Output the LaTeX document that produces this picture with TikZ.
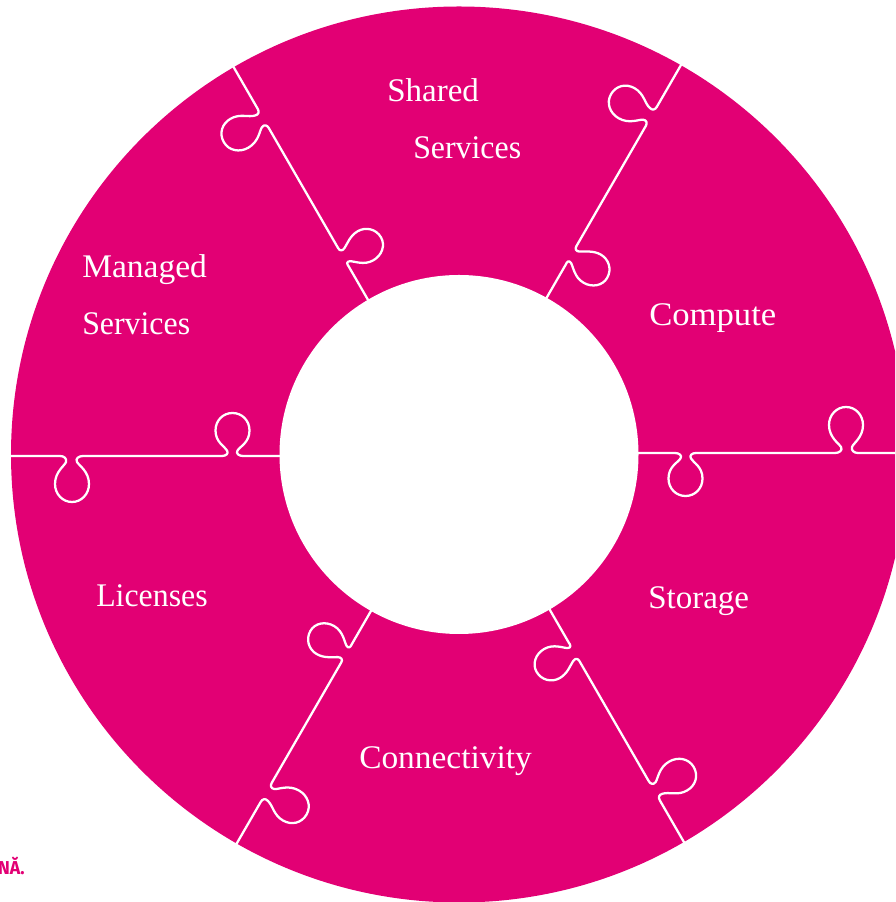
\documentclass[tikz,border=0pt]{standalone}
\usepackage{fontspec}
\setmainfont{Liberation Serif}
\newfontfamily\boldsans{Fira Sans}
\definecolor{tmag}{HTML}{E20074}
\tikzset{
  seamline/.style={draw=white,line width=1.7pt,line join=round,fill=none},
  piecelabel/.style={text=white,font=\fontsize{24.75pt}{30pt}\selectfont,anchor=base west,inner sep=0pt},
  cutlabel/.style={text=tmag,font=\boldsans\bfseries\fontsize{14pt}{16pt}\selectfont,anchor=base east,inner sep=0pt}
}
\begin{document}
\begin{tikzpicture}[x=0.75pt,y=0.75pt]
\useasboundingbox (0,0) rectangle (895,902);
\clip (0,0) rectangle (895,902);
\coordinate (c) at (459,447.5);
\fill[tmag] (c) circle (448);
\fill[white] (c) circle (179.5);
% horizontal seams
\foreach \a in {0,180}{
\begin{scope}[shift={(c)},rotate=\a]
\draw[seamline] (178,1.5) -- (216,1.5)
 .. controls (220,1.5) and (223.5,-1) .. (221.5,-4)
 .. controls (219,-8) and (209.5,-12) .. (209.5,-24)
 .. controls (209.5,-34) and (217,-41.5) .. (226.5,-41.5)
 .. controls (236,-41.5) and (243.5,-34) .. (243.5,-24)
 .. controls (243.5,-12) and (234,-8) .. (232,-4)
 .. controls (230,-1) and (233,1.5) .. (237,1.5)
 -- (376,1.5)
 .. controls (380,1.5) and (384,4) .. (382,7.5)
 .. controls (380,11) and (370,17) .. (370,29.5)
 .. controls (370,39.5) and (377.5,47.5) .. (387,47.5)
 .. controls (396.5,47.5) and (404,39.5) .. (404,29.5)
 .. controls (404,17) and (394,11) .. (393,7.5)
 .. controls (392,4) and (395,1.5) .. (399,1.5)
 -- (450,1.5);
\end{scope}}
% slanted seams
\foreach \a/\d in {60/1,120/0,240/0.5,300/-0.5}{
\begin{scope}[shift={(c)},rotate=\a,shift={(0,\d)}]
\draw[seamline] (178,1.5) -- (218,1.5)
 .. controls (221,2) and (223.5,1) .. (222,-2)
 .. controls (220,-6) and (211,-12) .. (211,-23)
 .. controls (211,-33) and (218,-41) .. (227,-41)
 .. controls (237,-41) and (244,-33) .. (244,-24)
 .. controls (244,-15) and (238.5,-9) .. (236,-4)
 .. controls (234.5,-1) and (235.5,1.5) .. (239,1.5)
 -- (378,1.5)
 .. controls (381,1.5) and (383.5,3.5) .. (382,7)
 .. controls (380,11) and (371,17) .. (371,29)
 .. controls (371,39) and (378,47.5) .. (388,47.5)
 .. controls (398,47.5) and (405,40) .. (405,30)
 .. controls (405,19) and (397,14) .. (395.5,7)
 .. controls (394.5,3.5) and (396.5,1.5) .. (400,1.5)
 -- (450,1.5);
\end{scope}}
\node[piecelabel] (shared) at (387,800) {Shared};
\node[piecelabel] (sharedb) at (413,743) {\scalebox{.965}[1]{Services}};
\node[piecelabel] (managed) at (82,624) {\scalebox{1.015}[1]{Managed}};
\node[piecelabel] (managedb) at (82,567) {\scalebox{.965}[1]{Services}};
\node[piecelabel] (compute) at (649,576) {\scalebox{1.05}[1]{Compute}};
\node[piecelabel] (storage) at (648,293) {Storage};
\node[piecelabel] (licenses) at (96,295) {\scalebox{.965}[1]{Licenses}};
\node[piecelabel] (connectivity) at (359,133) {\scalebox{1.012}[1]{Connectivity}};
\node[cutlabel] (cut) at (25,27) {\scalebox{.95}[1]{NĂ.}};
\end{tikzpicture}
\end{document}
